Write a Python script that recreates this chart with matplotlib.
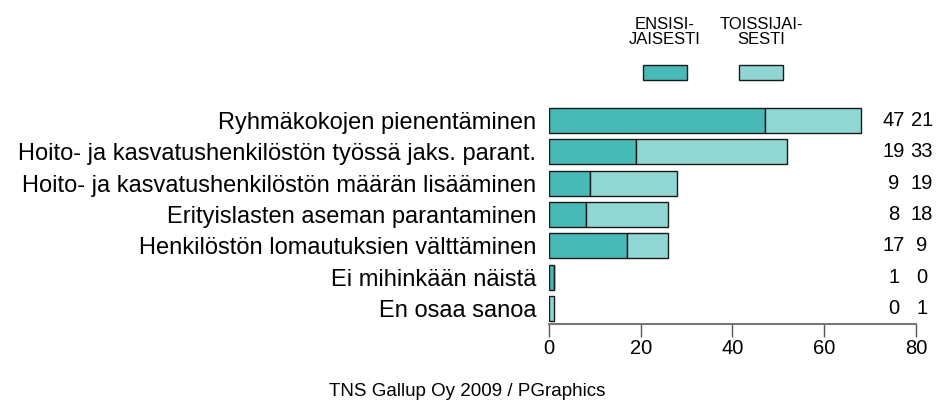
import matplotlib.pyplot as plt
from matplotlib.patches import Rectangle

plt.rcParams['font.family'] = ['Liberation Sans', 'DejaVu Sans']

categories = [
    "Ryhmäkokojen pienentäminen",
    "Hoito- ja kasvatushenkilöstön työssä jaks. parant.",
    "Hoito- ja kasvatushenkilöstön määrän lisääminen",
    "Erityislasten aseman parantaminen",
    "Henkilöstön lomautuksien välttäminen",
    "Ei mihinkään näistä",
    "En osaa sanoa",
]
first = [47, 19, 9, 8, 17, 1, 0]
second = [21, 33, 19, 18, 9, 0, 1]
series_names = ["ENSISI-\nJAISESTI", "TOISSIJAI-\nSESTI"]
xticks = [0, 20, 40, 60, 80]

c_first = "#47b9b6"
c_second = "#90d7d4"
edge = "#1a1a1a"

fig = plt.figure(figsize=(9.36, 4.03), dpi=100)
ax = fig.add_axes([0.5865, 0.196, 0.392, 0.5435])

y = list(range(len(categories)))
ax.barh(y, first, height=0.8, color=c_first, edgecolor=edge, linewidth=1)
ax.barh(y, second, left=first, height=0.8, color=c_second, edgecolor=edge, linewidth=1)

ax.set_xlim(0, 80)
ax.set_ylim(6.5, -0.5)
ax.set_yticks(y)
ax.set_yticklabels(categories, fontsize=17)
ax.tick_params(axis='y', length=0, pad=9)
ax.set_xticks(xticks)
ax.tick_params(axis='x', length=9, width=1, color='#555555', labelsize=14.5, pad=2)
for s in ['top', 'right', 'left']:
    ax.spines[s].set_visible(False)
ax.spines['bottom'].set_color('#777777')
ax.spines['bottom'].set_linewidth(1.5)

for i in y:
    ax.text(75.2, i, str(first[i]), ha='center', va='center', fontsize=14.5, clip_on=False)
    ax.text(81.3, i, str(second[i]), ha='center', va='center', fontsize=14.5, clip_on=False)

# legend
for cx, col, name in [(665, c_first, series_names[0]), (761, c_second, series_names[1])]:
    fig.patches.append(Rectangle(((cx - 22) / 936, 1 - 80 / 403), 44 / 936, 15 / 403,
                                 transform=fig.transFigure, facecolor=col,
                                 edgecolor=edge, linewidth=1))
    fig.text(cx / 936, 1 - 32 / 403, name, ha='center', va='center', fontsize=12,
             linespacing=1.05)

fig.text(467 / 936, 1 - 391 / 403, "TNS Gallup Oy 2009 / PGraphics", ha='center',
         va='center', fontsize=13.5)

fig.savefig("out.png", dpi=100)
